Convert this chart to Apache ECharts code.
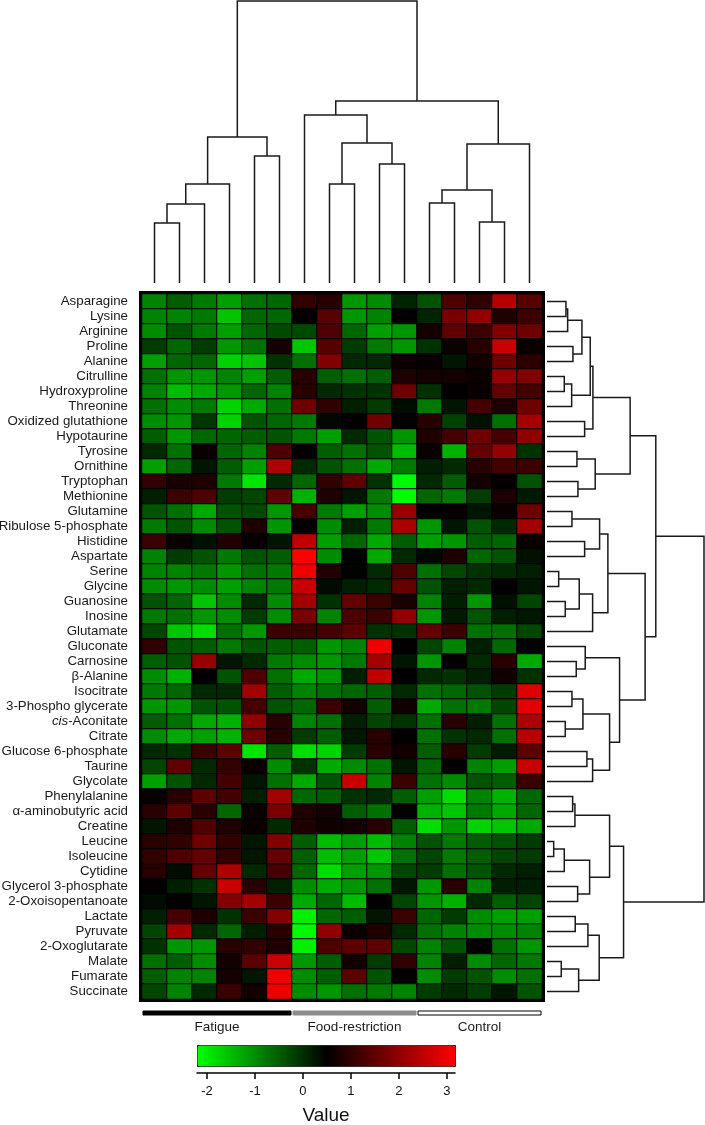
<!DOCTYPE html>
<html><head><meta charset="utf-8">
<script src="https://cdn.jsdelivr.net/npm/echarts@6/dist/echarts.min.js"></script>
<style>html,body{margin:0;padding:0;background:#fff}#c{width:705px;height:1125px}</style>
</head><body><div id="c"></div><script>
// ---------------- DATA ----------------
const metabolites = ['Asparagine','Lysine','Arginine','Proline','Alanine','Citrulline','Hydroxyproline','Threonine',
 'Oxidized glutathione','Hypotaurine','Tyrosine','Ornithine','Tryptophan','Methionine','Glutamine','Ribulose 5-phosphate',
 'Histidine','Aspartate','Serine','Glycine','Guanosine','Inosine','Glutamate','Gluconate','Carnosine','β-Alanine',
 'Isocitrate','3-Phospho glycerate','cis-Aconitate','Citrate','Glucose 6-phosphate','Taurine','Glycolate',
 'Phenylalanine','α-aminobutyric acid','Creatine','Leucine','Isoleucine','Cytidine','Glycerol 3-phosphate',
 '2-Oxoisopentanoate','Lactate','Pyruvate','2-Oxoglutarate','Malate','Fumarate','Succinate'];
const groups = ['Fatigue','Food-restriction','Control'];
const groupSizes = [6,5,5];
// one row per metabolite, 16 samples (6 fatigue, 5 food-restriction, 5 control)
const values = [
 [-0.9,-0.5,-0.8,-1.2,-0.7,-0.6,1.0,0.9,-1.1,-1.0,0.1,-0.4,1.3,1.0,2.4,1.4],
 [-0.9,-0.9,-0.8,-1.6,-0.6,-0.6,0.5,1.4,-1.1,-0.9,0.5,0.1,1.75,2.0,0.8,1.1],
 [-1.0,-0.4,-0.8,-1.2,-0.6,-0.3,-0.3,1.3,-0.6,-1.2,-1.1,0.7,1.5,1.1,1.85,1.65],
 [-0.15,-0.6,-0.15,-1.1,-0.7,0.7,-1.6,1.4,-0.15,-0.8,-1.1,-0.05,0.6,0.9,2.6,0.6],
 [-1.2,-0.6,-0.6,-1.75,-1.6,-0.05,-0.7,1.85,0.05,0.05,0.6,0.55,0.25,0.7,1.65,0.95],
 [-0.7,-1.1,-1.1,-0.9,-1.2,-0.5,0.9,-0.5,-0.7,-0.5,0.8,0.7,0.7,0.6,2.05,1.85],
 [-0.9,-1.5,-1.3,-1.1,-0.6,-0.9,0.9,0.05,-0.05,-0.05,1.65,-0.05,0.5,0.6,1.55,1.2],
 [-0.7,-1.0,-0.8,-1.75,-1.3,-0.7,1.65,1.0,0.15,-0.15,0.35,-0.8,0.25,1.2,0.8,1.65],
 [-1.0,-1.1,-0.1,-1.75,-0.4,-0.6,-0.8,0.4,0.5,1.65,0.5,0.9,-0.2,0.3,-0.7,2.2],
 [-0.5,-1.1,-0.6,-0.6,-0.5,-0.4,-0.8,-1.2,0.05,-0.4,-1.1,0.8,1.2,1.65,1.2,2.0],
 [0.05,-0.7,0.6,-0.6,-0.9,1.3,0.5,-0.5,-0.7,-0.4,-1.5,0.6,-1.4,1.55,2.05,-0.05],
 [-1.2,-0.6,0.25,-0.5,-1.2,2.3,0.05,-0.4,-0.7,-1.3,-0.8,0.15,0.05,0.9,1.2,1.1],
 [1.0,0.75,0.8,-0.8,-1.95,0.05,-0.6,1.0,1.45,-0.05,-2.15,0.05,-0.5,0.7,0.5,-0.4],
 [0.15,1.1,1.3,-0.15,-0.25,1.5,-1.4,0.8,0.25,-0.8,-2.2,-0.6,-0.8,-0.15,0.75,0.2],
 [-0.4,-0.7,-1.3,-0.4,-0.3,-1.1,1.2,-0.8,-1.2,-1.0,2.05,0.5,0.55,0.25,0.6,1.65],
 [-0.8,-0.4,-1.0,-0.4,0.8,-1.1,0.5,-1.0,0.15,-0.8,2.3,-1.1,0.25,-0.4,0.05,2.2],
 [1.1,0.6,0.3,0.85,0.55,0.25,2.5,-1.2,-0.6,-1.3,-0.5,-1.2,-1.1,-0.5,-0.6,0.6],
 [-0.9,-0.15,-0.4,-0.8,-0.4,-0.5,3.15,-1.0,0.45,-1.3,0.05,0.4,0.8,-0.6,-0.4,0.3],
 [-0.9,-0.9,-0.8,-1.1,-0.7,-0.8,3.0,0.85,0.45,0.05,1.3,-0.7,-0.25,-0.05,0.05,0.15],
 [-1.0,-1.1,-1.0,-1.2,-0.9,-0.8,2.6,0.35,0.15,0.05,1.55,-0.4,0.15,0.05,0.5,0.25],
 [-0.4,-0.6,-1.6,-1.0,0.05,-1.0,2.2,-0.05,1.55,1.1,0.75,-0.9,0.15,-1.1,0.3,-0.25],
 [-0.8,-0.7,-1.1,-1.0,-0.15,-1.0,1.75,-0.9,1.3,1.1,2.0,-1.1,0.2,-0.4,0.15,0.25],
 [-0.25,-1.6,-1.85,-0.7,-1.1,1.1,1.1,1.2,1.45,-0.05,-0.05,1.55,1.1,-0.7,-0.7,-0.25],
 [1.0,-0.4,-0.5,-0.8,-0.4,-0.5,-0.5,-1.1,-0.9,3.0,0.5,-0.25,-0.9,0.15,-0.6,0.45],
 [-0.5,-0.4,2.05,0.25,0.05,-0.8,-1.0,-1.1,-0.8,2.2,0.25,-1.1,0.5,0.05,0.9,-1.3],
 [-1.0,-1.4,0.5,-0.4,1.3,-0.7,-1.3,-1.1,0.15,2.5,0.5,0.05,-0.05,0.15,0.65,-0.05],
 [-0.8,-0.6,0.05,0.05,2.2,-0.5,-0.9,-0.7,-0.6,-0.5,0.05,-0.7,-0.6,-0.4,-0.15,2.8],
 [-1.1,-1.1,-0.4,-0.4,1.2,-0.4,-0.6,1.1,0.7,-0.5,0.65,-1.3,-0.7,-0.8,-0.25,2.9],
 [-0.5,-0.7,-1.3,-1.4,2.0,0.9,-0.9,-0.7,0.15,-0.25,-0.05,-0.7,0.9,0.15,-0.7,2.3],
 [-1.0,-1.3,-1.2,-1.4,1.65,0.9,-0.15,-0.5,0.25,0.9,0.5,-0.7,-0.05,0.05,-0.7,2.4],
 [0.05,-0.05,1.1,1.45,-1.95,-0.5,-1.85,-1.75,-0.15,0.9,0.65,-0.5,0.9,-0.15,0.2,1.45],
 [-0.25,1.5,0.05,1.0,0.6,-1.0,-0.05,-1.3,-1.0,-0.7,0.25,-0.6,0.5,-0.9,-1.2,2.6],
 [-1.2,-0.4,0.05,1.2,0.25,-0.7,-1.3,-0.4,2.6,-0.9,1.1,-0.7,-1.0,-0.4,-0.5,1.1],
 [0.55,0.9,1.45,1.2,0.15,2.2,-0.6,-0.5,-0.05,0.05,-0.5,-1.2,-1.85,-0.9,-1.4,-0.6],
 [0.9,1.45,0.9,-0.6,0.6,1.75,0.8,0.7,-0.5,-0.7,0.5,-1.4,-1.6,-0.8,-1.3,-0.6],
 [0.25,0.8,1.3,0.8,0.6,0.05,0.8,0.65,0.7,0.9,-0.5,-1.85,-1.1,-1.75,-1.6,-1.3],
 [0.9,1.0,1.65,1.0,0.25,1.85,-0.5,-1.5,-1.2,-1.5,-0.9,-0.4,-0.8,-0.5,-0.4,-0.15],
 [1.0,1.3,1.55,1.0,0.25,1.55,-0.5,-1.5,-1.2,-1.6,-0.7,-0.25,-0.8,-0.5,-0.25,-0.15],
 [0.9,0.35,1.55,2.3,0.05,1.2,-0.6,-1.85,-1.2,-1.1,-0.25,-0.15,-0.7,-0.4,0.05,0.15],
 [0.5,0.15,-0.05,2.6,0.9,0.15,-1.0,-1.3,-1.1,-0.7,0.25,-1.1,0.9,-0.9,0.15,0.15],
 [0.35,0.5,0.25,1.85,2.2,1.1,-1.3,-0.6,-1.5,0.5,-0.25,-1.1,-1.4,0.05,-0.5,-0.25],
 [0.15,1.2,0.8,-0.05,1.1,1.85,-2.05,-0.6,-0.5,0.25,1.1,-0.6,-0.15,-1.0,-1.2,-1.2],
 [-0.25,2.2,0.05,-0.6,0.15,0.9,-2.15,2.0,0.6,0.8,0.05,-0.7,-0.9,-1.0,-1.0,-0.9],
 [-0.05,-1.1,-1.1,0.9,1.0,0.8,-2.05,1.3,1.45,1.45,-0.25,-0.9,-0.4,0.5,-0.7,-1.1],
 [-0.7,-0.5,-1.0,0.7,1.45,2.6,-1.1,-0.5,0.7,-0.15,1.0,-0.9,0.15,-1.0,-0.6,-0.8],
 [-0.5,-0.9,-0.9,0.7,0.25,3.0,-1.0,-0.5,1.45,-0.4,0.5,-1.0,-0.15,-0.4,-1.0,-0.7],
 [-0.25,-0.9,0.05,1.1,0.7,3.0,-1.0,-1.1,-0.7,-0.8,-0.9,-0.15,0.05,-0.15,0.25,-0.4]
];
// dendrograms: node = [left, right, mergeHeight]; leaves are column / row indices
const colTree = [
 [[[[0,1,60],2,79],3,99],[4,5,127],146],
 [[6,[[7,8,99],[9,10,119],140],168],[[[11,12,80],[13,14,61],93],15,139],182],
 282];
const rowTree = [
 [
  [[[[[[0,1,19],2,20.7],[3,4,26],35],[[5,6,17.3],7,24.7],43.3],[8,9,37.7],46],[[10,11,30],[12,13,31],48.3],83.3],
  [[[[14,15,25],[16,17,37.7],52.7],[[[18,19,11.7],[20,21,18.3],32.3],22,45.7],61],
   [[23,[24,25,29.3],38.3],[[[26,27,25],[28,29,18.3],36],[[30,31,40],32,45.7],62.7],72.7],98.3],
  109],
 [[[[33,34,25.7],35,28],[[[36,37,6.7],38,17.3],[39,40,30.7],42.7],62.7],
  [[[41,42,28.3],43,41],[[44,45,14.3],46,31.7],52.3],76.7],
 157.3];
const colTreeMax = 282, rowTreeMax = 157.3;
const colorMin = -2.21, colorMax = 3.17;
const colorbarTicks = [-2,-1,0,1,2,3];
const colorbarTitle = 'Value';

// ---------------- BUILD ----------------
const FONT = '"Liberation Sans", Arial, sans-serif';
const LABEL_SIZE = 13.3;
const nCols = groupSizes.reduce((a,b)=>a+b,0);
const sampleIds = Array.from({length:nCols},(_, i)=>'S'+(i+1));
const heatData = [];
values.forEach((row, r) => row.forEach((v, c) => heatData.push([c, r, v])));

function layoutTree(node, segs){
  if (typeof node === 'number') return {pos: node, h: 0};
  const a = layoutTree(node[0], segs), b = layoutTree(node[1], segs);
  segs.push([a.pos, a.h, b.pos, b.h, node[2]]);
  return {pos: (a.pos + b.pos) / 2, h: node[2]};
}
const colSegs = []; layoutTree(colTree, colSegs);
const rowSegs = []; layoutTree(rowTree, rowSegs);

const groupSpans = []; let start = 0;
groupSizes.forEach((n, i) => { groupSpans.push([start, start + n - 1, i]); start += n; });
const groupStyles = [
  {fill:'#000', stroke:'#000'},
  {fill:'#8c8c8c', stroke:'#8c8c8c'},
  {fill:'#fff', stroke:'#000'}
];
const LINE = '#1a1a1a';
const G = {outerBoundsMode:'none', containLabel:false};

const chart = echarts.init(document.getElementById('c'), null, {renderer:'canvas'});
chart.setOption({
  animation:false,
  backgroundColor:'#fff',
  grid:[
    Object.assign({left:142, top:294, width:400, height:705, show:true, borderColor:'#000', borderWidth:6, backgroundColor:'transparent'}, G),
    Object.assign({left:142, top:1, width:400, height:282}, G),
    Object.assign({left:547, top:294, width:157, height:705}, G),
    Object.assign({left:197, top:1072, width:258, height:1}, G),
    Object.assign({left:142, top:1011, width:400, height:4}, G)
  ],
  xAxis:[
    {gridIndex:0, type:'category', data:sampleIds, show:false},
    {gridIndex:1, type:'value', min:-0.5, max:nCols-0.5, show:false},
    {gridIndex:2, type:'value', min:0, max:rowTreeMax, show:false},
    {gridIndex:3, type:'value', min:colorMin, max:colorMax,
      axisLine:{show:true, lineStyle:{color:'#000', width:1.5}},
      axisTick:{show:true, customValues:colorbarTicks, length:6, lineStyle:{color:'#000', width:1.5}},
      axisLabel:{show:true, customValues:colorbarTicks, margin:12, fontSize:13, color:'#111', fontFamily:FONT},
      splitLine:{show:false},
      name:colorbarTitle, nameLocation:'middle', nameGap:33,
      nameTextStyle:{fontSize:19, color:'#111', fontFamily:FONT}},
    {gridIndex:4, type:'value', min:-0.5, max:nCols-0.5, show:false}
  ],
  yAxis:[
    {gridIndex:0, type:'category', data:metabolites, inverse:true,
      axisLine:{show:false}, axisTick:{show:false}, splitLine:{show:false},
      axisLabel:{fontSize:LABEL_SIZE, color:'#1a1a1a', fontFamily:FONT, margin:14, interval:0,
        formatter: v => v.indexOf('cis-') === 0 ? '{i|cis}{n|' + v.slice(3) + '}' : v,
        rich:{i:{fontStyle:'italic', fontSize:LABEL_SIZE, color:'#1a1a1a', fontFamily:FONT},
              n:{fontSize:LABEL_SIZE, color:'#1a1a1a', fontFamily:FONT}}}},
    {gridIndex:1, type:'value', min:0, max:colTreeMax, show:false},
    {gridIndex:2, type:'value', min:-0.5, max:metabolites.length-0.5, inverse:true, show:false},
    {gridIndex:3, type:'value', show:false},
    {gridIndex:4, type:'value', min:0, max:1, show:false}
  ],
  visualMap:{
    type:'continuous', min:colorMin, max:colorMax, seriesIndex:0,
    orient:'horizontal', left:197, top:1045, itemWidth:21, itemHeight:258,
    calculable:false, hoverLink:false, showLabel:false, text:null,
    padding:0, borderColor:'#000', borderWidth:1,
    inRange:{color:['#00ff00','#000000','#ff0000']}
  },
  series:[
    {type:'heatmap', xAxisIndex:0, yAxisIndex:0, data:heatData,
      itemStyle:{borderColor:'#000', borderWidth:1}, emphasis:{disabled:true}, silent:true},
    {type:'custom', xAxisIndex:1, yAxisIndex:1, data:colSegs, silent:true, clip:false,
      renderItem:(p, api) => {
        const pts = [
          api.coord([api.value(0), api.value(1)]),
          api.coord([api.value(0), api.value(4)]),
          api.coord([api.value(2), api.value(4)]),
          api.coord([api.value(2), api.value(3)])];
        return {type:'polyline', shape:{points:pts}, style:{stroke:LINE, lineWidth:1.5, fill:'none'}};
      }},
    {type:'custom', xAxisIndex:2, yAxisIndex:2, data:rowSegs, silent:true, clip:false,
      renderItem:(p, api) => {
        const pts = [
          api.coord([api.value(1), api.value(0)]),
          api.coord([api.value(4), api.value(0)]),
          api.coord([api.value(4), api.value(2)]),
          api.coord([api.value(3), api.value(2)])];
        return {type:'polyline', shape:{points:pts}, style:{stroke:LINE, lineWidth:1.5, fill:'none'}};
      }},
    {type:'custom', xAxisIndex:4, yAxisIndex:4, data:groupSpans, silent:true, clip:false,
      renderItem:(p, api) => {
        const a = api.coord([api.value(0) - 0.5, 1]);
        const b = api.coord([api.value(1) + 0.5, 0]);
        const gi = api.value(2);
        return {type:'group', children:[
          {type:'rect', shape:{x:a[0]+1, y:a[1], width:b[0]-a[0]-2, height:b[1]-a[1]},
            style:Object.assign({lineWidth:1}, groupStyles[gi])},
          {type:'text', style:{text:groups[gi], x:(a[0]+b[0])/2, y:b[1]+12, align:'center', verticalAlign:'middle',
            fontSize:13.5, fontFamily:FONT, fill:'#1a1a1a'}}
        ]};
      }}
  ]
});
</script></body></html>
